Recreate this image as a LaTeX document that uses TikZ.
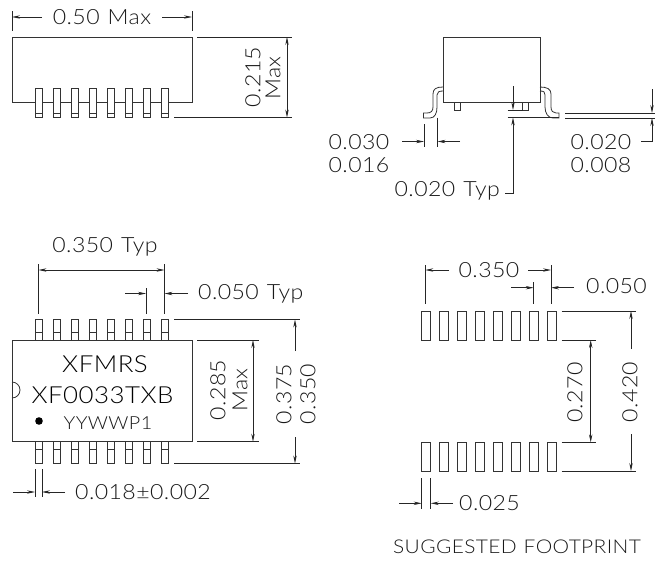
\documentclass[tikz,border=0pt]{standalone}
\usepackage{fontspec}
\setmainfont{Lato}[UprightFont=* Light,FakeStretch=1.1,LetterSpace=2]
\usetikzlibrary{arrows.meta}
\begin{document}
\begin{tikzpicture}[
        x=1pt,y=-1pt,
        partline/.style={draw=black!80,line width=0.8pt},
        leadbox/.style={partline,fill=white},
        dimline/.style={draw=black!85,line width=0.7pt},
        dimtip/.style={dimline,-{Stealth[length=8pt,width=3.4pt]}},
        bothtip/.style={dimline,{Stealth[length=8pt,width=3.4pt]}-{Stealth[length=8pt,width=3.4pt]}},
        dimtext/.style={inner sep=0pt,font=\fontsize{21}{21}\selectfont,text=black!90},
        sidetext/.style={dimtext,rotate=90},
        smalltext/.style={dimtext,font=\fontsize{18}{18}\selectfont},
        marking/.style={inner sep=0pt,text=black,font=\fontsize{23.5}{23.5}\selectfont}
    ]
    \useasboundingbox (0,0) rectangle (655,560);

    \draw[partline] (12,37) rectangle (192,102.5);
    \foreach \x in {35,53,...,161} {
            \draw[leadbox] (\x,88) rectangle (\x+7,117.5);
            \draw[partline] (\x,113) -- (\x+7,113);
        }
    \draw[dimline] (12,11) -- (12,31);
    \draw[dimline] (192,11) -- (192,31);
    \node[dimtext] (widthtext) at (102,17) {0.50\hspace{8pt}Max};
    \draw[dimtip] (42,17) -- (12,17);
    \draw[dimtip] (162,17) -- (192,17);
    \draw[dimline] (197,37) -- (292,37);
    \draw[dimline] (174,117.5) -- (292,117.5);
    \draw[bothtip] (287,37) -- (287,117.5);
    \node[sidetext] (heighttext) at (253,77) {0.215};
    \node[sidetext] (heightmax) at (273,78) {Max};

    \draw[partline] (443,37) rectangle (540,102.5);
    \draw[leadbox] (454.5,102.5) rectangle (460,110);
    \draw[leadbox] (522.5,102.5) rectangle (528,110);
    \draw[partline] (443,87) .. controls (436,87) and (433,89) .. (433,94) -- (433,107)
    .. controls (433,111) and (431,113) .. (427,113) -- (423.5,113) -- (423.5,118)
    -- (430,118) .. controls (435,118) and (437,113) .. (437,107) -- (437,95)
    .. controls (437,92) and (439,91) .. (443,91);
    \draw[partline] (540,87) .. controls (547,87) and (551,89) .. (551,94) -- (551,107)
    .. controls (551,111) and (553,113) .. (556,113) -- (559,113) -- (559,118)
    -- (553,118) .. controls (548,118) and (545,113) .. (545,107) -- (545,95)
    .. controls (545,92) and (544,91) .. (540,91);
    \draw[dimline] (507.5,110) -- (522.5,110);
    \draw[dimline] (507.5,117.5) -- (559,117.5);
    \draw[dimtip] (513,86) -- (513,110);
    \draw[dimtip] (505,193) -- (513,193) -- (513,117.5);
    \node[dimtext,anchor=east] (typtext) at (500,191) {0.020\hspace{8pt}Typ};
    \draw[dimline] (565,113) -- (655,113);
    \draw[dimline] (565,118) -- (655,118);
    \draw[dimtip] (652,89) -- (652,113);
    \draw[dimtip] (641,141.5) -- (652,141.5) -- (652,118);
    \node[dimtext] (thicka) at (601,142) {0.020};
    \node[dimtext] (thickb) at (601,165) {0.008};
    \draw[dimline] (424,124) -- (424,147);
    \draw[dimline] (437.5,117.5) -- (437.5,147);
    \draw[dimtip] (402,141.5) -- (424,141.5);
    \draw[dimtip] (460,141.5) -- (437.5,141.5);
    \node[dimtext] (wingb) at (359,142) {0.030};
    \node[dimtext] (wingc) at (359,165) {0.016};

    \foreach \x in {35,53,...,161} {
            \draw[leadbox] (\x,319.5) rectangle (\x+7,340);
            \draw[partline] (\x,332) -- (\x+7,332);
            \draw[leadbox] (\x,441.7) rectangle (\x+7,463.5);
            \draw[partline] (\x,449) -- (\x+7,449);
        }
    \draw[partline] (12,340) rectangle (192,441.7);
    \draw[partline] (12,382) arc[start angle=-90,end angle=90,radius=8];
    \fill[black] (39,421) circle (3.8);
    \node[marking] (linea) at (105,364) {XFMRS};
    \node[marking] (lineb) at (102.5,395) {XF0033TXB};
    \node[smalltext] (linec) at (108,423) {YYWWP1};
    \node[dimtext] (pitchtext) at (105,247) {0.350\hspace{8pt}Typ};
    \draw[dimline] (38.5,264) -- (38.5,314);
    \draw[dimline] (164.5,264) -- (164.5,314);
    \draw[bothtip] (38.5,270) -- (164.5,270);
    \draw[dimline] (146,288) -- (146,314);
    \draw[dimtip] (125,293.5) -- (146,293.5);
    \draw[dimtip] (188,293.5) -- (164.5,293.5);
    \node[dimtext,anchor=west] (gaptext) at (198,294) {0.050\hspace{8pt}Typ};
    \draw[dimline] (174,319.5) -- (300,319.5);
    \draw[dimline] (174,463.5) -- (300,463.5);
    \draw[dimline] (197,340) -- (259,340);
    \draw[dimline] (197,441.7) -- (259,441.7);
    \draw[bothtip] (253,340) -- (253,441.7);
    \node[sidetext] (bodytext) at (218,390) {0.285};
    \node[sidetext] (bodymax) at (240,390) {Max};
    \draw[dimtip] (295,351) -- (295,319.5);
    \draw[dimtip] (295,437) -- (295,463.5);
    \node[sidetext] (spana) at (284,394) {0.375};
    \node[sidetext] (spanb) at (308,394) {0.350};
    \draw[dimline] (35,469) -- (35,497);
    \draw[dimline] (42,469) -- (42,497);
    \draw[dimtip] (13,492) -- (35,492);
    \draw[dimtip] (65,492) -- (42,492);
    \node[dimtext,anchor=west] (pintext) at (75,492) {0.018±0.002};

    \foreach \x in {421.7,439.6,...,548} {
            \draw[partline] (\x,311) rectangle (\x+9,340);
            \draw[partline] (\x,442.3) rectangle (\x+9,471);
        }
    \draw[dimline] (425.3,265) -- (425.3,304);
    \draw[dimline] (551,265) -- (551,304);
    \draw[dimtip] (449,270) -- (425.3,270);
    \draw[dimtip] (528,270) -- (551,270);
    \node[dimtext] (padspan) at (489,270) {0.350};
    \draw[dimline] (533.7,282) -- (533.7,304);
    \draw[dimtip] (511,287.7) -- (533.7,287.7);
    \draw[dimtip] (574,287.7) -- (551,287.7);
    \node[dimtext,anchor=west] (padgap) at (586,286) {0.050};
    \draw[dimline] (561.7,311) -- (636,311);
    \draw[dimline] (561.7,471) -- (636,471);
    \draw[dimline] (561.7,340) -- (596,340);
    \draw[dimline] (561.7,442.3) -- (596,442.3);
    \draw[bothtip] (590.7,340) -- (590.7,442.3);
    \node[sidetext] (innertext) at (575,392.5) {0.270};
    \draw[dimtip] (631,349) -- (631,311);
    \draw[dimtip] (631,434) -- (631,471);
    \node[sidetext] (outertext) at (630,392) {0.420};
    \draw[dimline] (421.7,478) -- (421.7,509);
    \draw[dimline] (430.7,478) -- (430.7,509);
    \draw[dimtip] (399,503.3) -- (421.7,503.3);
    \draw[dimtip] (453,503.3) -- (430.7,503.3);
    \node[dimtext,anchor=west] (padwidth) at (459,503) {0.025};
    \node[dimtext,font=\fontsize{19}{19}\selectfont] (foottext) at (517,547) {SUGGESTED\hspace{7pt}FOOTPRINT};
\end{tikzpicture}
\end{document}
